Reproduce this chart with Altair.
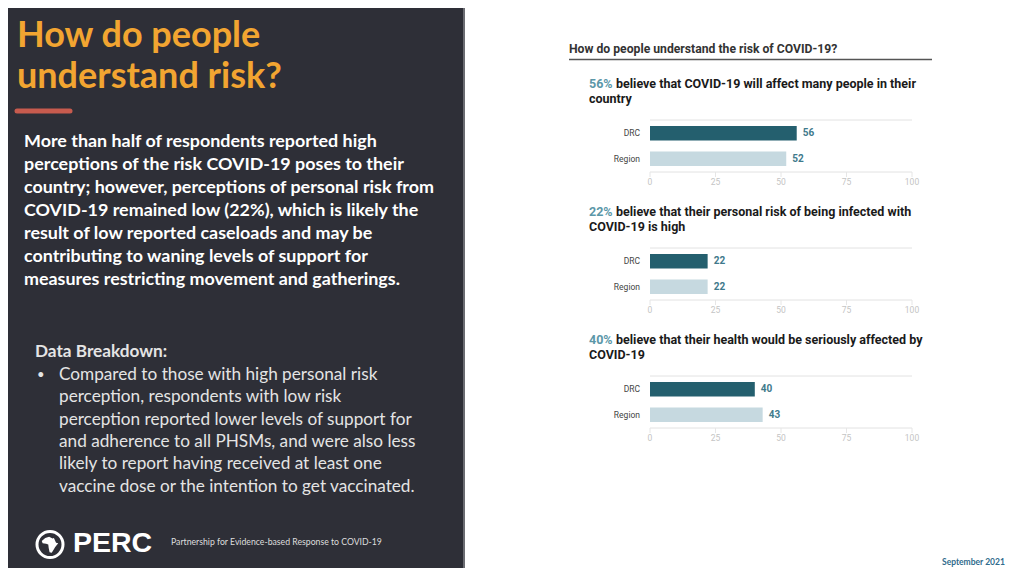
import altair as alt
import pandas as pd

# ---------------- data ----------------
slide_title = ["How do people", "understand risk?"]
summary_lines = [
    "More than half of respondents reported high",
    "perceptions of the risk COVID-19 poses to their",
    "country; however, perceptions of personal risk from",
    "COVID-19 remained low (22%), which is likely the",
    "result of low reported caseloads and may be",
    "contributing to waning levels of support for",
    "measures restricting movement and gatherings.",
]
breakdown_head = "Data Breakdown:"
breakdown_lines = [
    "Compared to those with high personal risk",
    "perception, respondents with low risk",
    "perception reported lower levels of support for",
    "and adherence to all PHSMs, and were also less",
    "likely to report having received at least one",
    "vaccine dose or the intention to get vaccinated.",
]
logo_text = "PERC"
partner_text = "Partnership for Evidence-based Response to COVID-19"
date_text = "September 2021"
chart_title = "How do people understand the risk of COVID-19?"
panel_titles = [
    ["believe that COVID-19 will affect many people in their", "country"],
    ["believe that their personal risk of being infected with", "COVID-19 is high"],
    ["believe that their health would be seriously affected by", "COVID-19"],
]
groups = ["DRC", "Region"]
drc_values = [56, 22, 40]
region_values = [52, 22, 43]
ticks = [0, 25, 50, 75, 100]

# ---------------- style ----------------
DARK_BG = "#2e2f37"
ORANGE = "#f2a531"
RED = "#c75b4e"
BAR_DARK = "#245f6e"
BAR_LIGHT = "#c6d9e0"
TEAL_TXT = "#3f7a8c"
PCT_TXT = "#5b97a8"
LEFT_FONT = "Lato"
RIGHT_FONT = "Liberation Sans Narrow, Roboto, sans-serif"

xscale = alt.Scale(domain=[0, 100], range=[642, 904])

dummy = pd.DataFrame({"k": [0]})


def deco_text(text, x, y, **kw):
    return alt.Chart(dummy).mark_text(align="left", baseline="alphabetic", **kw).encode(
        x=alt.value(x), y=alt.value(y), text=alt.value(text)
    )


layers = []

# left dark panel
layers.append(
    alt.Chart(dummy).mark_rect(color=DARK_BG).encode(
        x=alt.value(0), x2=alt.value(457), y=alt.value(0), y2=alt.value(560)
    )
)
layers.append(
    alt.Chart(dummy).mark_rule(color="#6b6c72", strokeWidth=2).encode(
        x=alt.value(456), y=alt.value(0), y2=alt.value(560)
    )
)
layers.append(deco_text(slide_title, 9, 39, font=LEFT_FONT, fontSize=36, fontWeight="bold",
                        color=ORANGE, lineHeight=41))
layers.append(
    alt.Chart(dummy).mark_rule(color=RED, strokeWidth=5, strokeCap="round").encode(
        x=alt.value(9), x2=alt.value(62), y=alt.value(103)
    )
)
layers.append(deco_text(summary_lines, 16, 139, font=LEFT_FONT, fontSize=17.9, fontWeight="bold",
                        color="#ffffff", lineHeight=23))
layers.append(deco_text(breakdown_head, 27, 349, font=LEFT_FONT, fontSize=17.2, fontWeight="bold",
                        color="#e4e4e4"))
layers.append(deco_text("•", 29, 371, font=LEFT_FONT, fontSize=13, color="#e4e4e4"))
layers.append(deco_text(breakdown_lines, 51, 372, font=LEFT_FONT, fontSize=17.2,
                        color="#e4e4e4", lineHeight=22.3))

# logo
africa = ("M -0.55 -0.75 L -0.1 -0.9 L 0.3 -0.7 L 0.45 -0.75 L 0.7 -0.2 L 0.95 -0.15 "
          "L 0.6 0.3 L 0.45 0.55 L 0.2 0.95 L -0.05 0.9 L -0.15 0.4 L -0.2 0.0 "
          "L -0.45 -0.1 L -0.85 -0.15 L -0.95 -0.4 Z")
layers.append(
    alt.Chart(dummy).mark_point(shape="circle", filled=False, stroke="white", strokeWidth=3,
                                size=676, opacity=1).encode(x=alt.value(42), y=alt.value(536.5))
)
layers.append(
    alt.Chart(dummy).mark_point(shape=africa, filled=True, fill="white", size=300,
                                opacity=1).encode(x=alt.value(42), y=alt.value(536.5))
)
layers.append(deco_text(logo_text, 65, 544, font="Liberation Sans", fontSize=28.5,
                        fontWeight="bold", color="white"))
layers.append(deco_text(partner_text, 163, 537, font=LEFT_FONT, fontSize=8.7, color="#dddddd"))
layers.append(deco_text(date_text, 934, 557, font=LEFT_FONT, fontSize=8.5, fontWeight="bold",
                        color="#2f6b8c"))

# right chart header
layers.append(deco_text(chart_title, 561, 45, font=RIGHT_FONT, fontSize=12.2, fontWeight="bold",
                        color="#333333"))
layers.append(
    alt.Chart(dummy).mark_rule(color="#555555", strokeWidth=1.5).encode(
        x=alt.value(561), x2=alt.value(924), y=alt.value(51.5)
    )
)


def panel(i):
    off = 128 * i
    top = 112 + off
    df = pd.DataFrame({"group": groups, "value": [drc_values[i], region_values[i]]})
    tk = pd.DataFrame({"tick": ticks})
    y = alt.Y("group:N", axis=None,
              scale=alt.Scale(domain=groups, range=[top, top + 52],
                              paddingInner=0.43, paddingOuter=0.235))
    x = alt.X("value:Q", scale=xscale, axis=None)
    base = alt.Chart(df)
    parts = []
    # titles
    parts.append(
        base.transform_filter(alt.datum.group == "DRC")
        .transform_calculate(label="datum.value + '%'")
        .mark_text(align="left", baseline="alphabetic", font=RIGHT_FONT, fontSize=12.5,
                   fontWeight="bold", color=PCT_TXT)
        .encode(x=alt.value(581), y=alt.value(80.3 + off), text="label:N")
    )
    parts.append(deco_text(panel_titles[i][0], 608, 80.3 + off, font=RIGHT_FONT, fontSize=12.5,
                           fontWeight="bold", color="#1a1a1a"))
    parts.append(deco_text(panel_titles[i][1], 581, 94.7 + off, font=RIGHT_FONT, fontSize=12.5,
                           fontWeight="bold", color="#1a1a1a"))
    # grid lines
    parts.append(
        alt.Chart(dummy).mark_rule(color="#e2e2e2", strokeWidth=1).encode(
            x=alt.value(642), x2=alt.value(904), y=alt.value(top)
        )
    )
    parts.append(
        alt.Chart(dummy).mark_rule(color="#e2e2e2", strokeWidth=1).encode(
            x=alt.value(642), x2=alt.value(904), y=alt.value(top + 52)
        )
    )
    parts.append(
        alt.Chart(tk).mark_rule(color="#e6e6e6", strokeWidth=1).encode(
            x=alt.X("tick:Q", scale=xscale, axis=None), y=alt.value(top + 52), y2=alt.value(top + 57)
        )
    )
    parts.append(
        alt.Chart(tk).mark_text(baseline="middle", align="center", font=RIGHT_FONT, fontSize=8.5,
                                color="#c4c4c4").encode(
            x=alt.X("tick:Q", scale=xscale, axis=None), y=alt.value(top + 62), text="tick:Q"
        )
    )
    # bars
    parts.append(
        base.mark_bar().encode(
            x=x, y=y,
            color=alt.Color("group:N", legend=None,
                            scale=alt.Scale(domain=groups, range=[BAR_DARK, BAR_LIGHT])),
        )
    )
    parts.append(
        base.mark_text(align="right", baseline="middle", font=RIGHT_FONT, fontSize=8.5,
                       color="#444444").encode(x=alt.value(632), y=y, text="group:N")
    )
    parts.append(
        base.mark_text(align="left", baseline="middle", dx=6, font=RIGHT_FONT, fontSize=10,
                       fontWeight="bold", color=TEAL_TXT).encode(x=x, y=y, text="value:Q")
    )
    return alt.layer(*parts)


chart = (
    alt.layer(*layers, panel(0), panel(1), panel(2))
    .resolve_scale(y="independent")
    .properties(width=1008, height=560, padding=0, autosize=alt.AutoSizeParams(type="none"),
                background="white")
    .configure_view(stroke=None)
)

chart.save("out.html", embed_options={"renderer": "svg", "actions": False})
